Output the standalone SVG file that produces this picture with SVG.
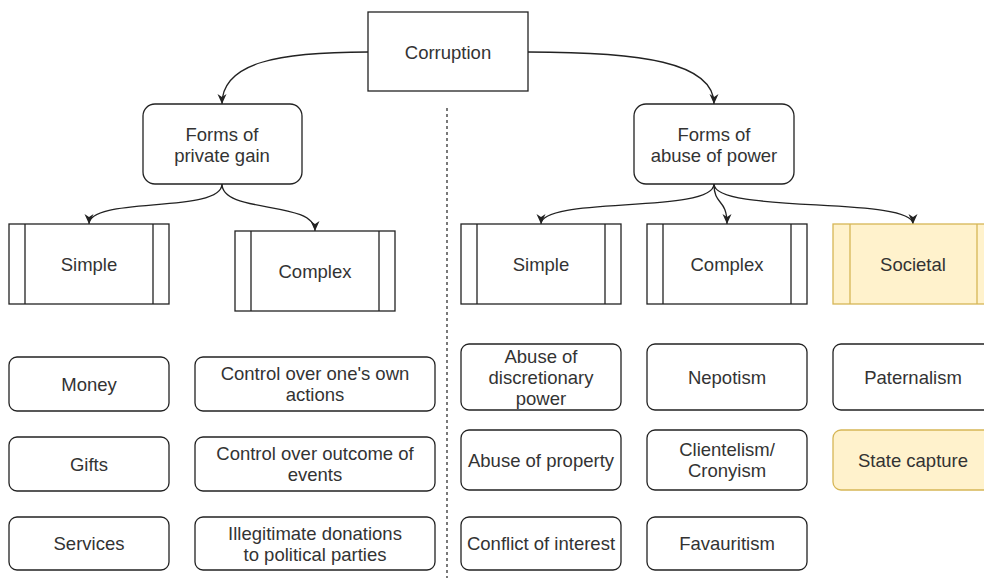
<svg xmlns="http://www.w3.org/2000/svg" width="984" height="578" viewBox="0 0 984 578">
<style>
.b{fill:#fff;stroke:#222;stroke-width:1.3}
.y{fill:#fff2cc;stroke:#d6b656;stroke-width:1.3}
.l{fill:none;stroke:#222;stroke-width:1.3}
.ly{fill:none;stroke:#d6b656;stroke-width:1.3}
.c{fill:none;stroke:#222;stroke-width:1.3;marker-end:url(#ah)}
text{font-family:"Liberation Sans",Arial,sans-serif;font-size:18.5px;fill:#333;text-anchor:middle}
</style>
<defs>
<marker id="ah" markerUnits="userSpaceOnUse" markerWidth="11" markerHeight="10" viewBox="0 0 11 10" refX="10" refY="5" orient="auto">
<path d="M0,0.5 L10,5 L0,9.5 L3,5 z" fill="#222"/>
</marker>
</defs>
<g id="connectors">
<path class="c" d="M368,52 C280,52 222,62 222,104"/>
<path class="c" d="M528,52 C640,52 714,62 714,104"/>
<path class="c" d="M222,184 C222,214 89,196 89,224"/>
<path class="c" d="M222,184 C222,214 315,200 315,231"/>
<path class="c" d="M714,184 C714,214 541,196 541,224"/>
<path class="c" d="M714,184 C714,206 727,198 727,224"/>
<path class="c" d="M714,184 C714,214 913,196 913,224"/>
<path d="M447,108 L447,578" fill="none" stroke="#333" stroke-width="1.3" stroke-dasharray="3 3"/>
</g>
<g id="corruption"><rect class="b" x="368" y="12" width="160" height="79"/><text x="448" y="59">Corruption</text></g>
<g id="private-gain"><rect class="b" x="143" y="104" width="159" height="80" rx="12"/><text x="222" y="141">Forms of</text><text x="222" y="162">private gain</text></g>
<g id="abuse-power"><rect class="b" x="634" y="104" width="160" height="80" rx="12"/><text x="714" y="141">Forms of</text><text x="714" y="162">abuse of power</text></g>
<g id="pg-simple"><rect class="b" x="9" y="224" width="160" height="80"/><path class="l" d="M25,224V304M153,224V304"/><text x="89" y="271">Simple</text></g>
<g id="pg-complex"><rect class="b" x="235" y="231" width="160" height="80"/><path class="l" d="M251,231V311M379,231V311"/><text x="315" y="278">Complex</text></g>
<g id="ap-simple"><rect class="b" x="461" y="224" width="160" height="80"/><path class="l" d="M477,224V304M605,224V304"/><text x="541" y="271">Simple</text></g>
<g id="ap-complex"><rect class="b" x="647" y="224" width="160" height="80"/><path class="l" d="M663,224V304M791,224V304"/><text x="727" y="271">Complex</text></g>
<g id="ap-societal"><rect class="y" x="833" y="224" width="160" height="80"/><path class="ly" d="M850,224V304M977,224V304"/><text x="913" y="271">Societal</text></g>
<g id="money"><rect class="b" x="9" y="357" width="160" height="54" rx="8"/><text x="89" y="390.5">Money</text></g>
<g id="gifts"><rect class="b" x="9" y="437" width="160" height="54" rx="8"/><text x="89" y="470.5">Gifts</text></g>
<g id="services"><rect class="b" x="9" y="517" width="160" height="53" rx="8"/><text x="89" y="550">Services</text></g>
<g id="control-actions"><rect class="b" x="195" y="357" width="240" height="54" rx="8"/><text x="315" y="380">Control over one's own</text><text x="315" y="401">actions</text></g>
<g id="control-events"><rect class="b" x="195" y="437" width="240" height="54" rx="8"/><text x="315" y="460">Control over outcome of</text><text x="315" y="481">events</text></g>
<g id="donations"><rect class="b" x="195" y="517" width="240" height="53" rx="8"/><text x="315" y="539.5">Illegitimate donations</text><text x="315" y="560.5">to political parties</text></g>
<g id="discretionary"><rect class="b" x="461" y="344" width="160" height="66" rx="8"/><text x="541" y="362.5">Abuse of</text><text x="541" y="383.5">discretionary</text><text x="541" y="404.5">power</text></g>
<g id="property"><rect class="b" x="461" y="430" width="160" height="60" rx="8"/><text x="541" y="466.5">Abuse of property</text></g>
<g id="conflict"><rect class="b" x="461" y="517" width="160" height="53" rx="8"/><text x="541" y="550">Conflict of interest</text></g>
<g id="nepotism"><rect class="b" x="647" y="344" width="160" height="66" rx="8"/><text x="727" y="383.5">Nepotism</text></g>
<g id="clientelism"><rect class="b" x="647" y="430" width="160" height="60" rx="8"/><text x="727" y="456">Clientelism/</text><text x="727" y="477">Cronyism</text></g>
<g id="favouritism"><rect class="b" x="647" y="517" width="160" height="53" rx="8"/><text x="727" y="550">Favauritism</text></g>
<g id="paternalism"><rect class="b" x="833" y="344" width="160" height="66" rx="8"/><text x="913" y="383.5">Paternalism</text></g>
<g id="state-capture"><rect class="y" x="833" y="430" width="160" height="60" rx="8"/><text x="913" y="466.5">State capture</text></g>
</svg>
